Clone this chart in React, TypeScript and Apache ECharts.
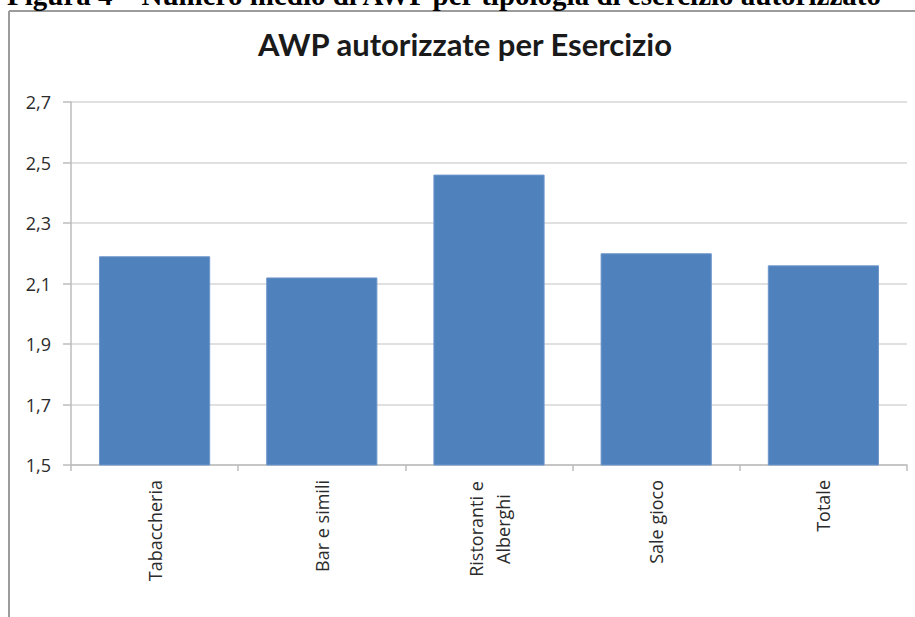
import React, { useEffect, useRef } from "react";
import * as echarts from "echarts";

const CAPTION = "Figura 4 – Numero medio di AWP per tipologia di esercizio autorizzato";
const TITLE = "AWP autorizzate per Esercizio";
const CATEGORIES = ["Tabaccheria", "Bar e simili", "Ristoranti e\nAlberghi", "Sale gioco", "Totale"];
const VALUES = [2.19, 2.12, 2.46, 2.2, 2.16];
const Y_TICKS = [1.5, 1.7, 1.9, 2.1, 2.3, 2.5, 2.7];
const Y_MIN = 1.5;
const Y_MAX = 2.7;

const LABEL_FONT = "'Open Sans', 'DejaVu Sans', sans-serif";

export default function App() {
  const ref = useRef<HTMLDivElement>(null);

  useEffect(() => {
    if (!ref.current) return;
    const chart = echarts.init(ref.current, undefined, { renderer: "svg" });
    chart.setOption({
      animation: false,
      backgroundColor: "#ffffff",
      grid: { left: 71, right: 8, top: 102, bottom: 152, containLabel: false },
      xAxis: {
        type: "category",
        data: CATEGORIES,
        axisLine: { show: true, lineStyle: { color: "#bdbdbd", width: 1.5 } },
        axisTick: { show: true, length: 6, lineStyle: { color: "#bdbdbd", width: 1.5 } },
        axisLabel: {
          rotate: 90,
          margin: 15,
          interval: 0,
          color: "#2b2b2b",
          fontFamily: LABEL_FONT,
          fontSize: 18,
          formatter: (v: string) =>
            v.indexOf("\n") >= 0
              ? v
                  .split("\n")
                  .map((l) => `{c|${l}}`)
                  .join("\n")
              : v,
          rich: {
            c: {
              width: 98,
              align: "center",
              lineHeight: 27,
              fontSize: 18,
              fontFamily: LABEL_FONT,
              color: "#2b2b2b",
            },
          },
        },
      },
      yAxis: {
        type: "value",
        min: Y_MIN,
        max: Y_MAX,
        axisLine: { show: true, lineStyle: { color: "#bdbdbd", width: 1.5 } },
        axisTick: { show: true, length: 8, customValues: Y_TICKS, lineStyle: { color: "#bdbdbd", width: 1.5 } },
        axisLabel: {
          margin: 20,
          customValues: Y_TICKS,
          color: "#2b2b2b",
          fontFamily: LABEL_FONT,
          fontSize: 18,
          formatter: (v: number) => v.toFixed(1).replace(".", ","),
        },
        splitLine: { show: true, lineStyle: { color: "#d6d6d6", width: 1.5 } },
      },
      series: [
        {
          type: "bar",
          data: VALUES,
          barCategoryGap: "33.5%",
          itemStyle: { color: "#4f81bd", borderColor: "#6f97cb", borderWidth: 1 },
        },
      ],
      graphic: [
        {
          type: "line",
          shape: { x1: 9, y1: 11, x2: 915, y2: 11 },
          style: { stroke: "#9c9c9c", lineWidth: 2 },
        },
        {
          type: "line",
          shape: { x1: 9, y1: 11, x2: 9, y2: 617 },
          style: { stroke: "#9c9c9c", lineWidth: 2 },
        },
        {
          type: "text",
          x: 7,
          y: -5,
          style: {
            text: CAPTION,
            fontFamily: "'Liberation Serif', 'Times New Roman', serif",
            fontWeight: "bold",
            fontSize: 29,
            fill: "#000000",
            textAlign: "left",
            textVerticalAlign: "middle",
          },
        },
        {
          type: "text",
          x: 465,
          y: 44,
          style: {
            text: TITLE,
            fontFamily: "Lato, 'Open Sans', sans-serif",
            fontWeight: "bold",
            fontSize: 31,
            fill: "#1a1a1a",
            textAlign: "center",
            textVerticalAlign: "middle",
          },
        },
      ],
    });
    return () => chart.dispose();
  }, []);

  return (
    <div
      ref={ref}
      style={{ position: "fixed", left: 0, top: 0, width: 915, height: 617, background: "#fff" }}
    />
  );
}
